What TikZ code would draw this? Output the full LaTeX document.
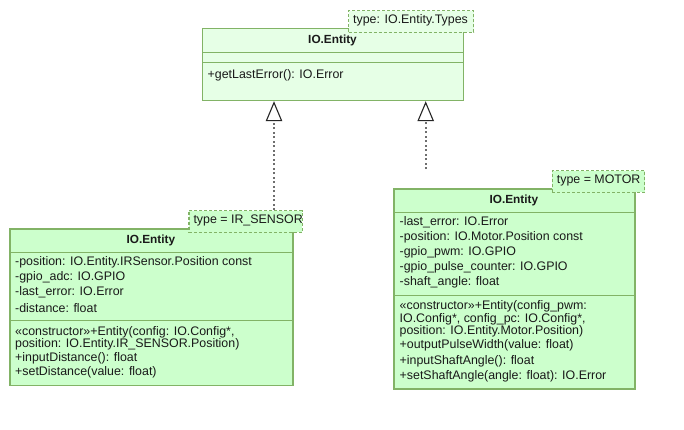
\documentclass[tikz,border=0pt]{standalone}
\usepackage{fontspec}
\setmainfont{Liberation Sans}
\usetikzlibrary{arrows.meta}
\definecolor{gborder}{HTML}{82B366}
\definecolor{gfill}{HTML}{CCFFCC}
\definecolor{glight}{HTML}{E6FFE6}
\definecolor{conn}{HTML}{6E6E6E}
\tikzset{
  cls/.style={draw=gborder, line width=1.2pt, anchor=north west, inner sep=0pt},
  sep/.style={draw=gborder, line width=1.2pt},
  tag/.style={draw=gborder, line width=1.2pt, dash pattern=on 3pt off 2pt, anchor=north west, inner sep=0pt, fill=gfill},
  txt/.style={anchor=west, inner sep=0pt, font=\fontsize{12.4}{14}\selectfont, text=black!90},
  ttl/.style={anchor=center, inner sep=0pt, font=\fontsize{11.8}{14}\selectfont\bfseries, text=black!90},
  realize/.style={draw=conn, line width=1.6pt, dash pattern=on 2pt off 2.5pt,
    -{Triangle[open, width=16.5pt, length=20pt, line width=1.1pt, color=black!85]}},
}
\begin{document}
\begin{tikzpicture}[x=1pt,y=-1pt]
\useasboundingbox[fill=white] (0,0) rectangle (684,429);

% top class
\node[cls, fill=glight, minimum width=261pt, minimum height=72pt] (top) at (202,28) {};
\draw[sep] (202,52.7) -- (463,52.7);
\draw[sep] (202,62.3) -- (463,62.3);
\node[ttl] (topt) at (332.5,40) {IO.Entity};
\node[txt] (topm) at (207.5,75.5) {+getLastError(): IO.Error};
\node[tag, fill=glight, minimum width=125pt, minimum height=21.7pt] (toptag) at (348,10) {};
\node[txt] (toptagt) at (353,20.5) {type: IO.Entity.Types};

% left class
\node[cls, fill=gfill, minimum width=283pt, minimum height=156.7pt] (left) at (9.3,228.3) {};
\draw[sep] (9.3,252.3) -- (292.3,252.3);
\draw[sep] (9.3,320.7) -- (292.3,320.7);
\node[ttl] (leftt) at (150.8,240.3) {IO.Entity};
\node[txt] (la1) at (15,262.3) {-position: IO.Entity.IRSensor.Position const};
\node[txt] (la2) at (15,277.7) {-gpio\_adc: IO.GPIO};
\node[txt] (la3) at (15,292.7) {-last\_error: IO.Error};
\node[txt] (la4) at (15,307.7) {-distance: float};
\node[txt] (lm1) at (15,332.7) {«constructor»+Entity(config: IO.Config*,};
\node[txt] (lm2) at (15,344) {position: IO.Entity.IR\_SENSOR.Position)};
\node[txt] (lm3) at (15,358.3) {+inputDistance(): float};
\node[txt] (lm4) at (15,372.7) {+setDistance(value: float)};
\node[tag, minimum width=113.4pt, minimum height=21.7pt] (lefttag) at (188.3,210) {};
\node[txt] (lefttagt) at (193.3,220.5) {type = IR\_SENSOR};

% right class
\node[cls, fill=gfill, minimum width=241pt, minimum height=200pt] (right) at (393.3,188.3) {};
\draw[sep] (393.3,212.3) -- (634.3,212.3);
\draw[sep] (393.3,295.7) -- (634.3,295.7);
\node[ttl] (rightt) at (513.8,200.3) {IO.Entity};
\node[txt] (ra1) at (399.5,222.3) {-last\_error: IO.Error};
\node[txt] (ra2) at (399.5,237.7) {-position: IO.Motor.Position const};
\node[txt] (ra3) at (399.5,252.3) {-gpio\_pwm: IO.GPIO};
\node[txt] (ra4) at (399.5,267.3) {-gpio\_pulse\_counter: IO.GPIO};
\node[txt] (ra5) at (399.5,282.3) {-shaft\_angle: float};
\node[txt] (rm1) at (399.5,306.7) {«constructor»+Entity(config\_pwm:};
\node[txt] (rm2) at (399.5,319) {IO.Config*, config\_pc: IO.Config*,};
\node[txt] (rm3) at (399.5,331) {position: IO.Entity.Motor.Position)};
\node[txt] (rm4) at (399.5,345.7) {+outputPulseWidth(value: float)};
\node[txt] (rm5) at (399.5,361) {+inputShaftAngle(): float};
\node[txt] (rm6) at (399.5,376.7) {+setShaftAngle(angle: float): IO.Error};
\node[tag, minimum width=92.3pt, minimum height=21.7pt] (righttag) at (551.7,170) {};
\node[txt] (righttagt) at (556.7,180.5) {type = MOTOR};

% connectors
\coordinate (c1) at (274,210);
\coordinate (c2) at (425.7,169);
\draw[realize] (c1) -- (c1 |- top.south);
\draw[realize] (c2) -- (c2 |- top.south);
\end{tikzpicture}
\end{document}
